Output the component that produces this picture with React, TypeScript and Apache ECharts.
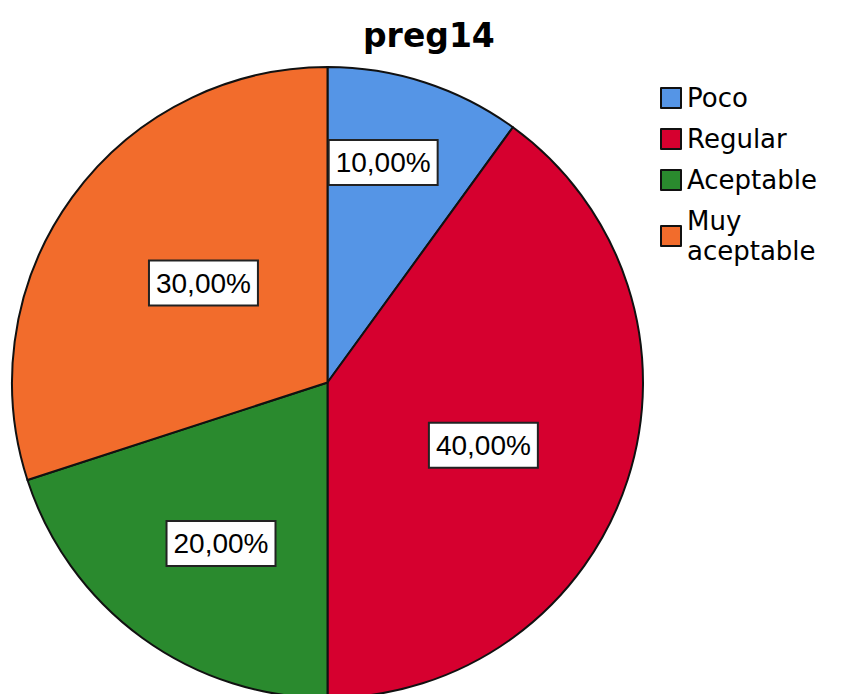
import React, { useEffect, useRef } from "react";
import * as echarts from "echarts";

const titleText = "preg14";
const categories = ["Poco", "Regular", "Aceptable", "Muy aceptable"];
const percents = [10, 40, 20, 30];
const colors = ["#5595E6", "#D6002F", "#2A8A2E", "#F26C2C"];
// label nudges (styling only) relative to ECharts' default inside position
const labelOffsets: [number, number][] = [
  [6, -67],
  [3, 13],
  [-12, 31],
  [6, -5],
];

export default function App() {
  const ref = useRef<HTMLDivElement>(null);
  useEffect(() => {
    if (!ref.current) return;
    const chart = echarts.init(ref.current, null, { renderer: "svg" });
    chart.setOption({
      animation: false,
      backgroundColor: "#ffffff",
      title: {
        text: titleText,
        left: 363,
        top: 19,
        padding: 0,
        textStyle: {
          fontFamily: "DejaVu Sans",
          fontWeight: "bold",
          fontSize: 33,
          color: "#000",
        },
      },
      legend: {
        orient: "vertical",
        left: 660,
        top: 83,
        itemWidth: 20,
        itemHeight: 20,
        itemGap: 11,
        icon: "rect",
        padding: 0,
        formatter: (name: string) => name.replace(" ", "\n"),
        textStyle: {
          fontFamily: "DejaVu Sans",
          fontSize: 26,
          lineHeight: 30,
          color: "#000",
          padding: [0, 0, 0, 1],
        },
        data: categories,
      },
      series: [
        {
          type: "pie",
          center: [327.5, 382.5],
          radius: 315.5,
          startAngle: 90,
          clockwise: true,
          avoidLabelOverlap: false,
          itemStyle: { borderColor: "#111", borderWidth: 2 },
          emphasis: { disabled: true },
          label: {
            show: true,
            position: "inside",
            formatter: (p: any) => p.value.toFixed(2).replace(".", ",") + "%",
            fontFamily: "Liberation Sans, Arial",
            fontSize: 28,
            color: "#000",
            backgroundColor: "#fff",
            borderColor: "#222",
            borderWidth: 2,
            padding: [8, 6, 7, 6],
          },
          labelLine: { show: false },
          data: categories.map((name, i) => ({
            name,
            value: percents[i],
            itemStyle: { color: colors[i] },
            label: { offset: labelOffsets[i] },
          })),
        },
      ],
    });
    return () => chart.dispose();
  }, []);
  return (
    <div
      ref={ref}
      style={{ position: "absolute", left: 0, top: 0, width: 843, height: 694 }}
    />
  );
}
